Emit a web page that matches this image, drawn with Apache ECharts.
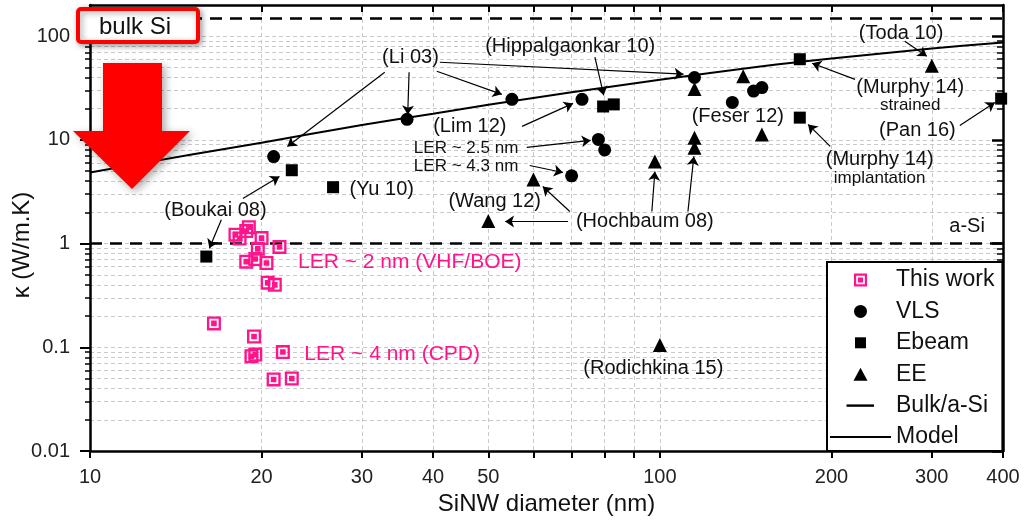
<!DOCTYPE html>
<html>
<head>
<meta charset="utf-8">
<script src="https://cdn.jsdelivr.net/npm/echarts@6/dist/echarts.min.js"></script>
<style>html,body{margin:0;padding:0;background:#fff}#c{width:1031px;height:521px}</style>
</head>
<body>
<div id="c"></div>
<script>
// ---------- data ----------
const thisWorkD = [19.0, 18.0, 18.3, 18.8, 20.0, 19.7, 21.5, 18.8, 19.5, 20.4, 20.5, 21.1, 16.5, 19.4, 19.2, 19.5, 21.8, 21.0, 22.6];
const thisWorkK = [1.44, 1.22, 1.12, 1.32, 1.13, 0.89, 0.93, 0.67, 0.71, 0.65, 0.42, 0.40, 0.17, 0.127, 0.082, 0.085, 0.09, 0.049, 0.050];

const vlsD = [21.0, 36, 55, 73, 78, 80, 70, 115, 146, 151, 134];
const vlsK = [6.9, 15.8, 24.6, 24.6, 10.1, 8.0, 4.5, 40, 29.6, 32, 23];

const ebeamD = [22.6, 26.7, 16.0, 79.5, 83, 176, 176, 397];
const ebeamK = [5.1, 3.5, 0.75, 21, 22, 60, 16.4, 25];

const eeD = [50, 60, 98, 115, 115, 115, 140, 151, 300, 100];
const eeK = [1.65, 4.15, 6.2, 31, 10.5, 8.4, 41, 11.3, 52, 0.105];

const modelD = [10, 15, 20, 30, 40, 50, 70, 100, 150, 200, 300, 400];
const modelK = [4.85, 7.2, 9.4, 13.9, 17.9, 21.8, 28.8, 38, 51, 61, 76, 87];

const referenceLevels = [150, 1];   // bulk Si, a-Si

const xTicks = [10, 20, 30, 40, 50, 60, 70, 80, 90, 100, 200, 300, 400];
const xLabels = [10, 20, 30, 40, 50, 100, 200, 300, 400];
const yLabels = [0.01, 0.1, 1, 10, 100];
const yMinorTicks = [0.02, 0.03, 0.04, 0.05, 0.06, 0.07, 0.08, 0.09,
  0.2, 0.3, 0.4, 0.5, 0.6, 0.7, 0.8, 0.9,
  2, 3, 4, 5, 6, 7, 8, 9,
  20, 30, 40, 50, 60, 70, 80, 90];
const yAllTicks = yLabels.concat(yMinorTicks);

const seriesNames = ['This work', 'VLS', 'Ebeam', 'EE', 'Bulk/a-Si', 'Model'];

// annotations: [text, diameter, kappa]
const notes = [
  ['(Li 03)', 36.5, 62],
  ['(Hippalgaonkar 10)', 69.6, 80],
  ['(Lim 12)', 46.4, 13.5],
  ['LER ~ 2.5 nm', 45.7, 8.3],
  ['LER ~ 4.3 nm', 45.7, 5.55],
  ['(Yu 10)', 32.5, 3.35],
  ['(Boukai 08)', 16.6, 2.08],
  ['(Wang 12)', 51.3, 2.55],
  ['(Hochbaum 08)', 94.1, 1.63],
  ['(Feser 12)', 137, 16.9],
  ['(Toda 10)', 265, 107],
  ['(Murphy 14)', 275, 32.2],
  ['strained', 275, 21.5],
  ['(Pan 16)', 283, 12.4],
  ['(Murphy 14)', 243, 6.48],
  ['implantation', 243, 4.29],
  ['a-Si', 346, 1.46],
  ['(Rodichkina 15)', 97.4, 0.062]
];
const pinkNotes = [
  ['LER ~ 2 nm (VHF/BOE)', 36.4, 0.66],
  ['LER ~ 4 nm (CPD)', 33.9, 0.0866]
];
const smallNotes = ['LER ~ 2.5 nm', 'LER ~ 4.3 nm', 'strained', 'implantation'];

// arrows: [[from d, from k], [to d, to k]]
const arrows = [
  [[32.9, 44.9], [22.2, 8.65]],
  [[36.3, 44.9], [36.1, 17.6]],
  [[40.6, 45.9], [52.8, 27.5]],
  [[41.1, 56.1], [110, 43]],
  [[76.9, 62.7], [79.7, 26.9]],
  [[57.3, 13.5], [70.4, 22.5]],
  [[58.4, 8.46], [75.6, 9.89]],
  [[59.1, 5.67], [67.6, 4.85]],
  [[18.55, 2.72], [21.5, 4.44]],
  [[17.0, 1.70], [16.2, 0.90]],
  [[69.0, 1.63], [53.5, 1.63]],
  [[69.5, 2.04], [62.3, 3.55]],
  [[96.8, 2.04], [98.0, 4.96]],
  [[112, 2.04], [114.7, 6.93]],
  [[220, 38.4], [185, 54.8]],
  [[269, 89.5], [294, 64.1]],
  [[336, 13.8], [387, 23.0]],
  [[199, 8.65], [182, 14.1]]
];

// ---------- chart ----------
const FONT = "Arial, 'Liberation Sans', sans-serif";
const PINK = '#ff148c';
const INK = '#111';
const PINK_SYMBOL = 'path://M0,0 L12,0 L12,12 L0,12 Z M2,2 L2,10 L10,10 L10,2 Z M3.6,3.6 L8.4,3.6 L8.4,8.4 L3.6,8.4 Z';
const RECT_ICON = 'path://M0,0 M61,13 M25,1 L36,1 L36,12 L25,12 Z';
const TRI_ICON = 'path://M0,0 M61,13 M30.5,0 L37.5,13 L23.5,13 Z';
const BULK_ICON = 'path://M0,0 M61,13 M16.5,5.3 L44,5.3 L44,7.7 L16.5,7.7 Z';
const MODEL_ICON = 'path://M0,0 M61,13 M0,5.5 L61,5.5 L61,7.5 L0,7.5 Z';
const zip = (a, b) => a.map((v, i) => [v, b[i]]);

const frameLine = {show: true, lineStyle: {color: '#000', width: 2.5}};
const gridDash = {show: true, lineStyle: {color: '#c9c9c9', type: [4, 3], width: 1}};

const chart = echarts.init(document.getElementById('c'), null, {renderer: 'canvas'});
chart.setOption({
  animation: false,
  backgroundColor: '#fff',
  textStyle: {fontFamily: FONT},
  grid: {left: 90, right: 28, top: 5, bottom: 70, containLabel: false, outerBoundsMode: 'none'},
  xAxis: [
    {
      type: 'log', logBase: 10, min: 10, max: 400, position: 'bottom',
      name: 'SiNW diameter (nm)', nameLocation: 'middle', nameGap: 41, nameMoveOverlap: false,
      nameTextStyle: {fontSize: 24, color: INK, fontFamily: FONT},
      axisLine: frameLine,
      axisTick: {show: true, customValues: xTicks, length: 7, lineStyle: {color: '#000', width: 2}},
      axisLabel: {customValues: xLabels, fontSize: 20, color: '#222', margin: 16, fontFamily: FONT,
        formatter: v => String(Math.round(v))},
      splitLine: gridDash,
      minorTick: {show: false}, minorSplitLine: {show: false}
    },
    {
      type: 'log', logBase: 10, min: 10, max: 400, position: 'top',
      axisLine: frameLine,
      axisTick: {show: true, inside: true, customValues: xTicks, length: 7, lineStyle: {color: '#000', width: 2}},
      axisLabel: {show: false}, splitLine: {show: false}
    }
  ],
  yAxis: [
    {
      type: 'log', logBase: 10, min: 0.01, max: 200, position: 'left',
      name: 'κ (W/m.K)', nameLocation: 'middle', nameGap: 56, nameMoveOverlap: false,
      nameTextStyle: {fontSize: 24, color: INK, fontFamily: FONT, padding: [0, 34, 0, 0]},
      axisLine: frameLine,
      axisTick: {show: true, customValues: yAllTicks, length: 5, lineStyle: {color: '#000', width: 1.5}},
      axisLabel: {customValues: yLabels, fontSize: 20, color: '#222', margin: 20, fontFamily: FONT,
        formatter: v => String(v)},
      splitLine: gridDash
    },
    {
      type: 'log', logBase: 10, min: 0.01, max: 200, position: 'left',
      axisLine: {show: false},
      axisTick: {show: true, customValues: yLabels, length: 10, lineStyle: {color: '#000', width: 2}},
      axisLabel: {show: false}, splitLine: {show: false}
    },
    {
      type: 'log', logBase: 10, min: 0.01, max: 200, position: 'right',
      axisLine: frameLine,
      axisTick: {show: true, inside: true, customValues: yMinorTicks, length: 6, lineStyle: {color: '#000', width: 1.5}},
      axisLabel: {show: false}, splitLine: {show: false}
    },
    {
      type: 'log', logBase: 10, min: 0.01, max: 200, position: 'right',
      axisLine: {show: false},
      axisTick: {show: true, inside: true, customValues: yLabels, length: 11, lineStyle: {color: '#000', width: 2.5}},
      axisLabel: {show: false}, splitLine: {show: false}
    }
  ],
  legend: {
    orient: 'vertical', left: 827, top: 262,
    padding: [6, 8, 2, 3],
    backgroundColor: '#fff', borderColor: '#000', borderWidth: 2,
    itemWidth: 61, itemHeight: 13, itemGap: 7.4, selectedMode: false,
    textStyle: {fontSize: 23, color: INK, lineHeight: 24, fontFamily: FONT},
    data: [
      {name: seriesNames[0], icon: PINK_SYMBOL},
      {name: seriesNames[1], icon: 'circle'},
      {name: seriesNames[2], icon: RECT_ICON},
      {name: seriesNames[3], icon: TRI_ICON},
      {name: seriesNames[4], icon: BULK_ICON},
      {name: seriesNames[5], icon: MODEL_ICON}
    ],
    z: 20
  },
  series: [
    {name: seriesNames[4], type: 'line', data: [], color: '#000', z: 2,
      markLine: {silent: true, symbol: 'none', label: {show: false},
        lineStyle: {color: '#000', type: [12, 8], width: 2.5},
        data: referenceLevels.map(v => ({yAxis: v}))}},
    {name: seriesNames[5], type: 'line', data: zip(modelD, modelK), smooth: 0.3, showSymbol: false,
      color: '#000', lineStyle: {color: '#000', width: 2}, z: 3},
    {name: seriesNames[0], type: 'scatter', data: zip(thisWorkD, thisWorkK), symbol: PINK_SYMBOL,
      symbolSize: 14, color: PINK, itemStyle: {color: PINK, opacity: 1}, z: 5},
    {name: seriesNames[1], type: 'scatter', data: zip(vlsD, vlsK), symbol: 'circle', symbolSize: 13,
      color: '#000', itemStyle: {opacity: 1}, z: 5},
    {name: seriesNames[2], type: 'scatter', data: zip(ebeamD, ebeamK), symbol: 'rect', symbolSize: 12,
      color: '#000', itemStyle: {opacity: 1}, z: 5},
    {name: seriesNames[3], type: 'scatter', data: zip(eeD, eeK), symbol: 'triangle', symbolSize: 14,
      color: '#000', itemStyle: {opacity: 1}, z: 5},
    {type: 'lines', coordinateSystem: 'cartesian2d', silent: true, z: 6,
      symbol: ['none', 'arrow'], symbolSize: [0, 9],
      lineStyle: {color: '#000', width: 1.2, opacity: 1, curveness: 0},
      data: arrows.map(a => ({coords: a}))},
    {type: 'scatter', silent: true, z: 7, symbolSize: 1, itemStyle: {color: 'rgba(0,0,0,0)', opacity: 1},
      label: {show: true, position: 'inside', formatter: p => p.name, color: INK, fontSize: 20, fontFamily: FONT, opacity: 1},
      data: notes.map(n => ({name: n[0], value: [n[1], n[2]],
        label: smallNotes.includes(n[0]) ? {fontSize: 17} : {}}))
        .concat(pinkNotes.map(n => ({name: n[0], value: [n[1], n[2]], label: {color: PINK, fontSize: 21}})))}
  ],
  graphic: [
    {type: 'polygon', z: 100,
      shape: {points: [[103, 63], [162, 63], [162, 131], [190, 131], [132, 189], [73, 131], [103, 131]]},
      style: {fill: '#ff0000', shadowBlur: 8, shadowColor: 'rgba(0,0,0,0.35)', shadowOffsetX: 3, shadowOffsetY: 3}},
    {type: 'rect', z: 100,
      shape: {x: 78, y: 9, width: 120, height: 33, r: 3},
      style: {fill: '#fff', stroke: '#ff0000', lineWidth: 4, shadowBlur: 6, shadowColor: 'rgba(0,0,0,0.35)', shadowOffsetX: 2, shadowOffsetY: 2}},
    {type: 'text', z: 101, x: 99, y: 27,
      style: {text: 'bulk Si', fontSize: 24, fontFamily: FONT, fill: INK, verticalAlign: 'middle', align: 'left'}}
  ]
});
</script>
</body>
</html>
